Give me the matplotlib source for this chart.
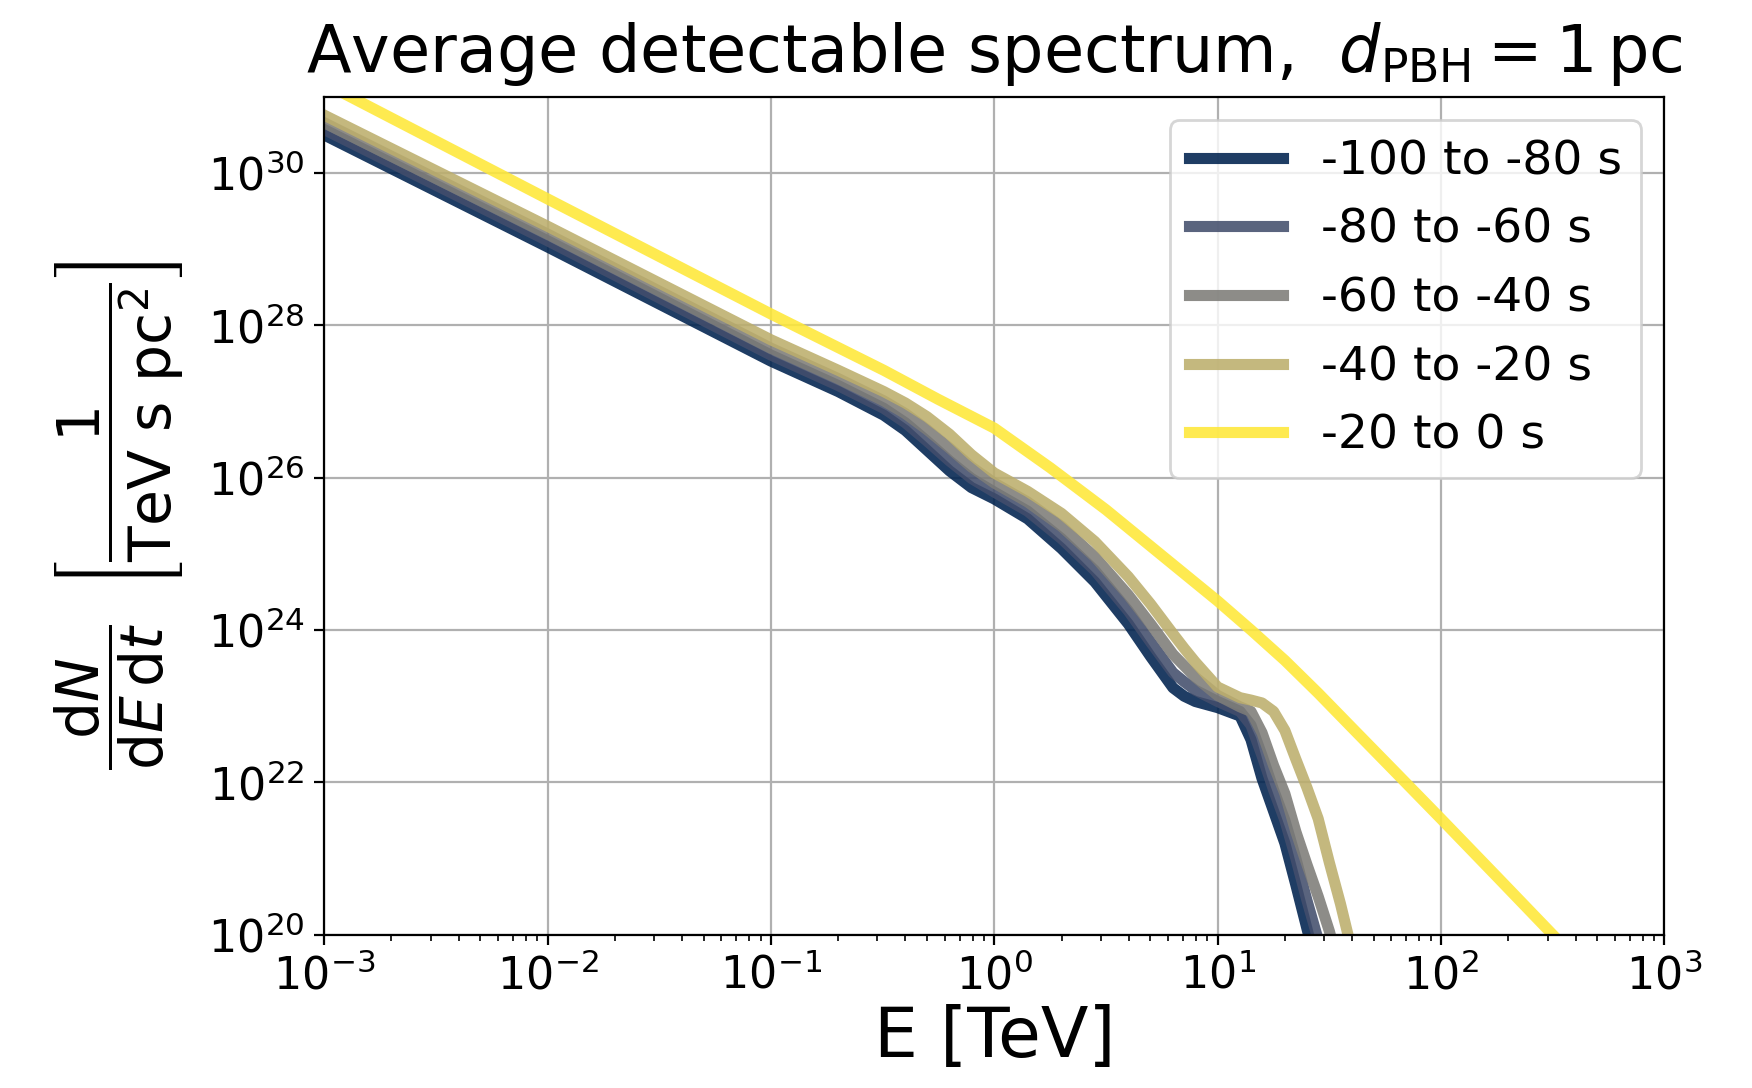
import numpy as np
import matplotlib
matplotlib.use("Agg")
import matplotlib.pyplot as plt
from matplotlib.ticker import NullLocator

# energy grid shared by the four earlier time bins [TeV]
energy = [0.001, 0.01, 0.1, 0.2, 0.32, 0.4, 0.5, 0.63, 0.79, 1.0, 1.41, 2.0,
          2.82, 3.98, 5.01, 6.31, 7.08, 7.94, 10.0, 12.6, 14.1, 15.8, 17.8,
          20.0, 22.4, 25.1, 28.2, 31.6, 35.5, 39.8, 44.7]

# dN/dE dt [1 / (TeV s pc^2)] per time bin
flux_100_80 = [3.16e30, 1.07e29, 3.39e27, 1.35e27, 6.61e26, 4.17e26, 2.29e26,
               1.23e26, 7.41e25, 5.25e25, 2.88e25, 1.17e25, 4.27e24, 1.20e24,
               4.47e23, 1.74e23, 1.35e23, 1.15e23, 9.55e22, 7.41e22, 3.63e22,
               1.12e22, 4.17e21, 1.58e21, 4.47e20, 1.20e20, 3.16e19]
flux_80_60 = [3.72e30, 1.29e29, 4.07e27, 1.62e27, 8.13e26, 5.25e26, 3.02e26,
              1.66e26, 9.77e25, 6.46e25, 3.63e25, 1.58e25, 6.03e24, 1.78e24,
              6.92e23, 2.75e23, 2.09e23, 1.62e23, 1.15e23, 8.51e22, 5.62e22,
              2.24e22, 7.94e21, 3.16e21, 1.00e21, 2.82e20, 8.51e19, 2.00e19]
flux_60_40 = [4.57e30, 1.58e29, 5.01e27, 2.00e27, 1.02e27, 6.92e26, 4.27e26,
              2.45e26, 1.38e26, 8.51e25, 4.79e25, 2.29e25, 9.12e24, 2.88e24,
              1.20e24, 4.79e23, 3.39e23, 2.40e23, 1.38e23, 9.77e22, 8.51e22,
              4.47e22, 1.66e22, 7.08e21, 2.24e21, 8.32e20, 3.16e20, 1.12e20,
              3.16e19]
flux_40_20 = [5.75e30, 2.00e29, 6.46e27, 2.57e27, 1.35e27, 9.55e26, 6.31e26,
              3.72e26, 2.00e26, 1.15e26, 6.61e25, 3.39e25, 1.45e25, 5.01e24,
              2.19e24, 8.91e23, 5.75e23, 3.80e23, 1.78e23, 1.29e23, 1.20e23,
              1.10e23, 8.51e22, 4.79e22, 2.00e22, 8.51e21, 3.31e21, 8.91e20,
              2.51e20, 6.31e19, 1.58e19]

# last 20 s before evaporation
energy_20_0 = [0.001, 0.01, 0.1, 0.32, 0.56, 1.0, 1.78, 3.16, 5.62, 10.0, 14.1,
               20.0, 28.2, 39.8, 63.1, 100.0, 178.0, 316.0, 398.0]
flux_20_0 = [1.51e31, 4.57e29, 1.41e28, 2.57e27, 1.07e27, 4.47e26, 1.35e26,
             3.80e25, 9.55e24, 2.40e24, 1.00e24, 3.98e23, 1.48e23, 5.25e22,
             1.32e22, 3.31e21, 5.75e20, 1.00e20, 5.01e19]

labels = ["-100 to -80 s", "-80 to -60 s", "-60 to -40 s", "-40 to -20 s",
          "-20 to 0 s"]

series = [
    (energy, flux_100_80),
    (energy, flux_80_60),
    (energy, flux_60_40),
    (energy, flux_40_20),
    (energy_20_0, flux_20_0),
]

colors = plt.cm.cividis(np.linspace(0, 1, len(series)))

fig = plt.figure(figsize=(8.76, 5.44), dpi=200, facecolor="white")
ax = fig.add_axes([0.185, 0.141, 0.765, 0.770])

for (e, f), c, lab in zip(series, colors, labels):
    ax.plot(e[:len(f)], f, color=c, lw=4, alpha=0.88, label=lab)

ax.set_xscale("log")
ax.set_yscale("log")
ax.set_xlim(1e-3, 1e3)
ax.set_ylim(1e20, 1e31)
ax.set_xticks([10.0 ** k for k in range(-3, 4)])
ax.set_yticks([10.0 ** k for k in range(20, 31, 2)])
ax.yaxis.set_minor_locator(NullLocator())
ax.tick_params(labelsize=16)
ax.grid(True, which="major", color="#b0b0b0", lw=0.8)

ax.set_xlabel("E [TeV]", fontsize=25, labelpad=2)
ax.set_ylabel(r"$\dfrac{\mathrm{d}N}{\mathrm{d}E\,\mathrm{d}t}\;\;"
              r"\left[\dfrac{1}{\mathrm{TeV\ s\ pc^2}}\right]$", fontsize=21,
              labelpad=8)
ax.set_title(r"Average detectable spectrum,  $d_\mathrm{PBH} = 1\,\mathrm{pc}$",
             fontsize=23.5, pad=9)

ax.legend(loc="upper right", fontsize=17)

fig.savefig("out.png", dpi=200, facecolor=fig.get_facecolor())
